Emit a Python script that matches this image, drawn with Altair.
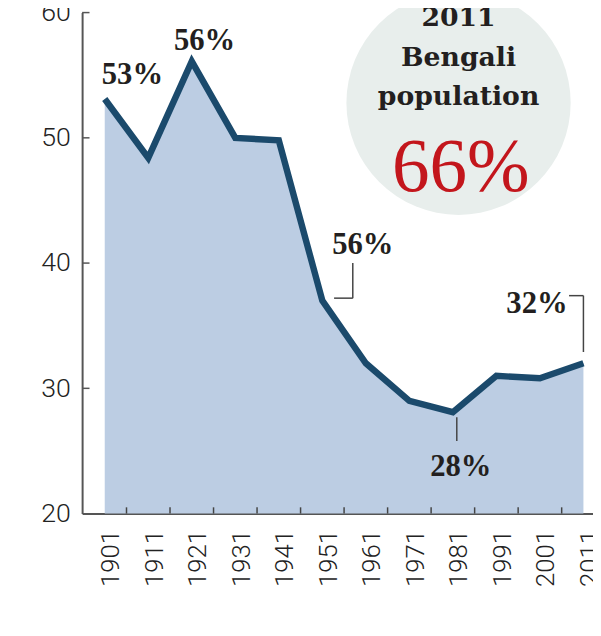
import altair as alt
import pandas as pd

# ---- data ----
years = [1901, 1911, 1921, 1931, 1941, 1951, 1961, 1971, 1981, 1991, 2001, 2011]
share = [53.1, 48.4, 56.1, 50.0, 49.8, 37.0, 32.0, 29.0, 28.1, 31.0, 30.8, 32.0]
y_tick_values = [20, 30, 40, 50, 60]
callout_labels = ["53%", "56%", "56%", "28%", "32%"]
callout_years = [1901, 1921, 1951, 1981, 2011]
circle_lines = ["2011", "Bengali", "population"]
circle_value = "66%"

df = pd.DataFrame({"year": years, "share": share})
lookup = dict(zip(years, share))

x_scale = alt.Scale(domain=[1895.8, 2013.2], nice=False, zero=False)
y_scale = alt.Scale(domain=[20, 60], nice=False, zero=False)

x_axis = alt.Axis(
    values=years, format="d", labelAngle=270, labelFont="Roboto", labelFontWeight=300,
    labelFontSize=26, labelColor="#222222", labelPadding=16, labelOffset=6,
    ticks=False, grid=False, domainColor="#555555", domainWidth=2, title=None,
    labelOverlap=False, labelFlush=False)
y_axis = alt.Axis(
    values=y_tick_values, labelFont="Roboto", labelFontWeight=300, labelFontSize=27,
    labelColor="#222222", labelPadding=12, ticks=False, grid=False,
    domainColor="#555555", domainWidth=2, title=None, labelFlush=False)

X = alt.X("year:Q", scale=x_scale, axis=x_axis)
Y = alt.Y("share:Q", scale=y_scale, axis=y_axis)

# background circle with the headline figure
circ_year, circ_val = 1982.3, 52.8
circle = alt.Chart(pd.DataFrame({"year": [circ_year], "share": [circ_val]})).mark_circle(
    size=51500, color="#e8eeec", opacity=1).encode(x=X, y=Y)

circle_text = alt.Chart(pd.DataFrame({
    "year": [circ_year] * 3, "share": [58.9, 55.75, 52.65], "t": circle_lines})).mark_text(
    font="DejaVu Serif", fontWeight="bold", fontSize=27, color="#231f20",
    align="center", baseline="alphabetic").encode(x=X, y=Y, text="t:N")

big = alt.Chart(pd.DataFrame({"year": [circ_year + 0.5], "share": [45.75], "t": [circle_value]})).mark_text(
    font="Liberation Serif", fontSize=76, color="#c3161c", align="center",
    baseline="alphabetic").encode(x=X, y=Y, text="t:N")

area = alt.Chart(df).mark_area(color="#bccde3", opacity=1).encode(x=X, y=Y, y2=alt.datum(20))
line = alt.Chart(df).mark_line(color="#1b4a6c", strokeWidth=6.5).encode(x=X, y=Y)

# inward ticks
xt = pd.DataFrame({"year": [y + 5 for y in years[:-1]], "share": [20] * 11, "s2": [20.5] * 11})
x_ticks = alt.Chart(xt).mark_rule(color="#444444", strokeWidth=1.5).encode(
    x=X, y=Y, y2="s2:Q")
yt = pd.DataFrame({"year": [1895.8] * 4, "y2": [1897.5] * 4, "share": y_tick_values[1:]})
y_ticks = alt.Chart(yt).mark_rule(color="#555555", strokeWidth=1.5).encode(
    x=X, x2="y2:Q", y=Y)

# callout labels
offsets = [(28, -15), (13, -12), (41, -47), (8, 65), (-47, -51)]
texts = []
for lab, yr, (dx, dy) in zip(callout_labels, callout_years, offsets):
    texts.append(alt.Chart(pd.DataFrame({"year": [yr], "share": [lookup[yr]], "t": [lab]})).mark_text(
        font="Liberation Serif", fontWeight="bold", fontSize=31, color="#231f20",
        align="center", baseline="alphabetic", dx=dx, dy=dy).encode(x=X, y=Y, text="t:N"))

# leader lines
segs = pd.DataFrame({
    "year": [1958.0, 1953.7, 2007.7, 2011.0, 1981.9],
    "year2": [1958.0, 1958.0, 2011.0, 2011.0, 1981.9],
    "share": [40.0, 37.2, 37.4, 37.4, 27.7],
    "share2": [37.2, 37.2, 37.4, 32.9, 25.8],
})
leaders = alt.Chart(segs).mark_rule(color="#444444", strokeWidth=1.5).encode(
    x=X, x2="year2:Q", y=Y, y2="share2:Q")

chart = alt.layer(circle, area, line, x_ticks, y_ticks, leaders, circle_text, big, *texts).properties(
    width=517, height=507,
    autosize=alt.AutoSizeParams(type="none"),
    padding={"left": 75, "top": 1, "right": 0, "bottom": 100},
).configure(background="white").configure_view(stroke=None)

chart.save("out.html", embed_options={"renderer": "svg", "actions": False})
